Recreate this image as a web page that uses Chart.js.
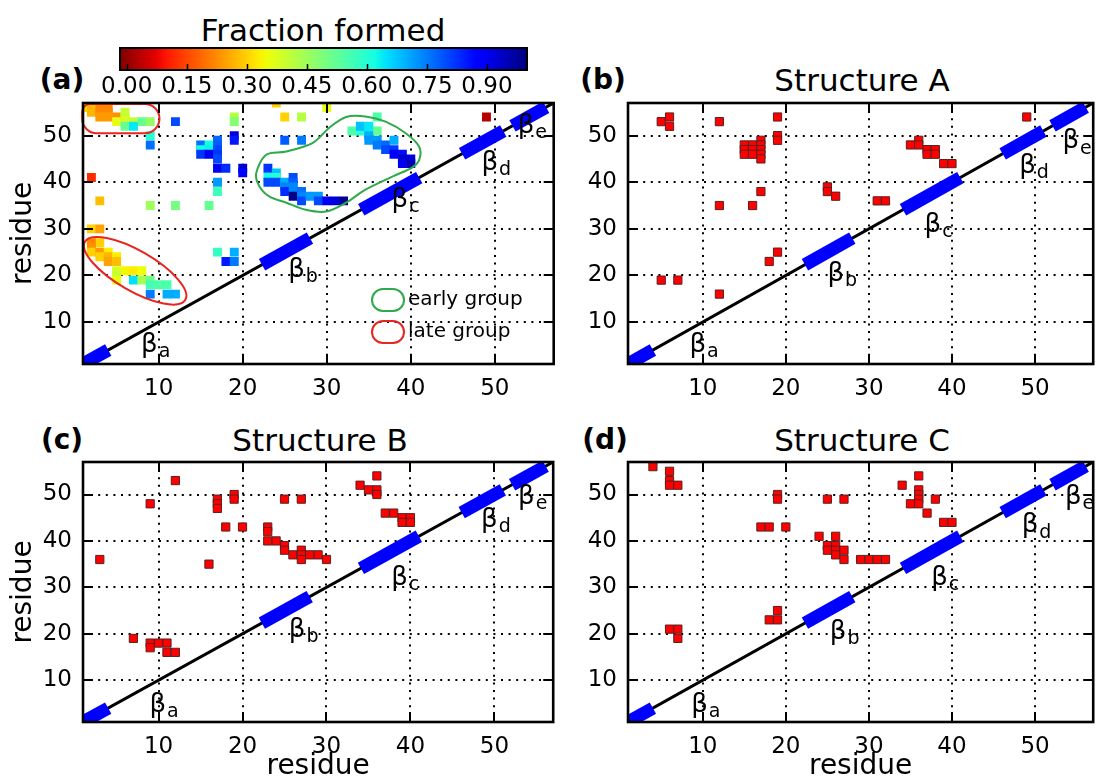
<!DOCTYPE html>
<html>
<head>
<meta charset="utf-8">
<title>Contact maps: fraction formed and structures A-C</title>
<script src="https://cdn.jsdelivr.net/npm/chart.js@4.4.1/dist/chart.umd.min.js"></script>
<style>
  html, body { margin: 0; padding: 0; background: #fff; }
  body { width: 1100px; height: 780px; position: relative; overflow: hidden;
         font-family: "DejaVu Sans", sans-serif; color: #000; }
  canvas { position: absolute; }
  .lbl { position: absolute; white-space: nowrap; line-height: 1; transform: translate(-50%, -50%); }
  .tag { font-weight: bold; font-size: 28px; }
  .ttl { font-size: 31px; }
</style>
</head>
<body>
<div class="lbl ttl" style="left:323px; top:30px;">Fraction formed</div>
<div class="lbl tag" style="left:62px; top:80px;">(a)</div>
<div class="lbl tag" style="left:603px; top:80px;">(b)</div>
<div class="lbl tag" style="left:62px; top:440px;">(c)</div>
<div class="lbl tag" style="left:605px; top:440px;">(d)</div>
<div class="lbl ttl" style="left:862px; top:80px;">Structure A</div>
<div class="lbl ttl" style="left:320px; top:440px;">Structure B</div>
<div class="lbl ttl" style="left:862px; top:440px;">Structure C</div>
<canvas id="cbar"></canvas>
<canvas id="pa"></canvas>
<canvas id="pb"></canvas>
<canvas id="pc"></canvas>
<canvas id="pd"></canvas>
<script>
// ---------------- data ----------------
const residueTicks = [10, 20, 30, 40, 50];
const fractionTicks = [0, 0.15, 0.30, 0.45, 0.60, 0.75, 0.90];

// beta strands drawn along the diagonal (residue ranges)
const strandNames = ['a', 'b', 'c', 'd', 'e'];
const strandStart = [0, 22.3, 34.1, 46.1, 52.1];
const strandEnd   = [4, 28.0, 41.0, 51.0, 56.1];

// (a) residue pairs in contact and the fraction of trajectories that formed them
const aResI = [1,2,3,4, 2,3,4, 3,4,5, 6,6, 5,6,7,8,9, 6,7,
  12, 9,9, 19,19, 19,19, 24,30,25,27, 25,27, 49,
  15,16,15,16,15,16, 17,17,17,17,17, 17,18,20,20, 17,17, 2,3, 9,12,16,
  36,33,34,35,36,34,35, 35,35,36,36,37,38, 37,38,38,39,39,40,39,40,
  23,24,23,24,23,24,25,26,26, 25,26,25,26,27,26,27,27, 28,29,29,30,31,32,
  2,3,3,2,2,2,3,3,4,4,4,5,5, 6,5,5,5,7,8,7,8,9,9,10,11,9,11,12,
  17,19,18,19];
const aResJ = [56,56,56,56, 55,55,55, 54,54,54, 55,54, 53,53,53,53,53, 52,52,
  53, 50,48, 54,53, 50,49, 57,56,54,54, 49,49, 54,
  48,48,47,47,46,46, 49,48,47,46,45, 43,43,43,42, 40,38, 41,36, 35,35,35,
  54,51,51,51,51,52,52, 50,49,49,48,48,49, 47,47,46,46,45,45,44,44,
  43,42,41,41,40,40,40,41,40, 39,39,38,38,38,37,37,36, 37,37,36,36,36,36,
  30,30,27,27,26,25,25,24,25,24,23,24,23, 21,21,20,19,21,21,19,19,19,18,18,18,16,16,16,
  25,25,23,23];
const aFrac = [.30,.28,.22,.22, .27,.22,.22, .24,.24,.23, .40,.40, .36,.38,.40,.52,.46, .52,.64,
  .80, .60,.76, .42,.48, .92,.85, .30,.36,.30,.42, .78,.75, .03,
  .76,.62,.62,.63,.82,.90, .77,.78,.80,.82,.80, .90,.83,.93,.88, .72,.57, .12,.28, .45,.50,.52,
  .55,.55,.60,.62,.52,.68,.64, .70,.72,.72,.75,.77,.70, .80,.82,.88,.86,.93,.92,.90,.95,
  .82,.68,.62,.60,.80,.80,.70,.80,.78, .74,.74,.83,.74,.76,.99,.74,.80, .72,.72,.80,.90,.92,.98,
  .30,.25,.30,.22,.23,.30,.24,.30,.33,.27,.25,.33,.28, .34,.38,.40,.36,.33,.35,.65,.44,.50,.56,.55,.55,.75,.70,.70,
  .58,.70,.85,.75];

// (b) Structure A contacts
const bResI = [5,6,6,12,19,19,19, 15,15,15,16,16,16,17,17,17,17,17,
  12,16,17,18,19,5,7,12, 25,25,26,31,32, 35,36,36,37,38,37,38,39,40,49];
const bResJ = [53,54,52,53,54,50,49, 48,47,46,48,47,46,49,48,47,46,45,
  35,35,38,23,25,19,19,16, 39,38,37,36,36, 48,49,48,47,47,46,46,44,44,54];

// (c) Structure B contacts
const cResI = [3,9,12,17,17,17,19,19,18,20,16,
  25,27,23,23,23,24,25,25,26,27,27,27,28,29,30,
  7,9,10,11,9,11,12,
  34,35,36,36,36,37,38,39,40,39,40];
const cResJ = [36,48,53,49,48,47,50,49,43,43,35,
  49,49,43,42,40,40,39,38,37,38,37,36,37,37,36,
  19,18,18,18,17,16,16,
  52,51,51,54,50,46,46,45,45,44,44];

// (d) Structure C contacts
const dResI = [4,6,6,6,7,19,19,17,18,20,
  25,27,24,26,25,26,25,26,26,27,27, 29,30,31,32,
  34,36,36,36,36,35,36,38,37,39,40,
  6,7,7,18,19,19];
const dResJ = [56,55,53,52,52,50,49,43,43,43,
  49,49,41,41,39,39,38,38,37,38,36, 36,36,36,36,
  52,54,51,50,49,48,48,49,46,44,44,
  21,21,19,23,23,25];

// ---------------- layout / style ----------------
const CB_MIN = -0.0167, CB_MAX = 1.0;
const FONT = '"DejaVu Sans", sans-serif';
Chart.defaults.font.family = FONT;
Chart.defaults.color = '#000';

// where the strand labels sit in each panel (residue coordinates of the beta glyph)
const strandLabelSpots = {
  a: [[8.9, 5.1], [26.4, 21.2], [38.7, 36.2], [49.4, 44.1], [53.7, 52.1]],
  b: [[9.4, 5.1], [26.0, 20.3], [37.7, 30.8], [49.1, 43.5], [54.3, 48.7]],
  c: [[9.9, 4.6], [26.5, 20.8], [38.7, 31.9], [49.4, 44.4], [53.8, 49.4]],
  d: [[9.6, 4.6], [26.3, 20.3], [38.5, 31.9], [49.4, 43.3], [54.6, 49.4]]
};

// outline around the early-forming group (residue coordinates)
const earlyOutline = [[21.6,41.9],[22.8,45.9],[25.2,46.6],[28.3,48.4],[30.3,51.7],[32.3,54.0],
  [34.6,54.1],[37.0,53.0],[39.4,50.5],[41.0,47.6],[41.0,44.8],[40.1,43.1],[37.8,41.2],
  [34.6,38.4],[32.3,35.6],[29.9,33.7],[27.5,34.1],[25.2,35.6],[23.2,36.9],[22.0,39.1]];

const GREEN = '#2eaa4a', RED = '#e8251f';

// jet colormap, reversed so that 0 is dark red and 1 is dark blue
function lerpStops(t, stops) {
  for (let k = 1; k < stops.length; k++) {
    if (t <= stops[k][0]) {
      const [t0, v0] = stops[k - 1], [t1, v1] = stops[k];
      return v0 + (v1 - v0) * (t - t0) / (t1 - t0);
    }
  }
  return stops[stops.length - 1][1];
}
function jet(t) {
  t = Math.min(1, Math.max(0, t));
  const r = lerpStops(t, [[0,0],[0.35,0],[0.66,1],[0.89,1],[1,0.5]]);
  const g = lerpStops(t, [[0,0],[0.125,0],[0.375,1],[0.64,1],[0.91,0],[1,0]]);
  const b = lerpStops(t, [[0,0.5],[0.11,1],[0.34,1],[0.65,0],[1,0]]);
  return `rgb(${Math.round(r*255)},${Math.round(g*255)},${Math.round(b*255)})`;
}
function fracColor(v) { return jet(1 - (v - CB_MIN) / (CB_MAX - CB_MIN)); }

function placeCanvas(id, left, top, w, h) {
  const c = document.getElementById(id);
  c.width = w; c.height = h;
  Object.assign(c.style, { left: left + 'px', top: top + 'px', width: w + 'px', height: h + 'px' });
  return c;
}

function toPoints(xs, ys) { return xs.map((v, i) => ({ x: v, y: ys[i] })); }

// keep the plot area exactly where the layout puts it (no label overhang padding)
function pinScale(s, prop, size) {
  s[prop] = size;
  s.paddingTop = 0; s.paddingBottom = 0; s.paddingLeft = 0; s.paddingRight = 0;
}

// ---------------- colorbar ----------------
const colorbarFill = {
  id: 'colorbarFill',
  beforeDatasetsDraw(chart) {
    const { ctx, chartArea: ca, scales: { x } } = chart;
    ctx.save();
    const g = ctx.createLinearGradient(ca.left, 0, ca.right, 0);
    const n = 96;
    for (let k = 0; k <= n; k++) g.addColorStop(k / n, fracColor(CB_MIN + (CB_MAX - CB_MIN) * k / n));
    ctx.fillStyle = g;
    ctx.fillRect(ca.left, ca.top, ca.width, ca.height);
    ctx.strokeStyle = '#000';
    ctx.lineWidth = 1.5;
    fractionTicks.forEach(v => {
      const px = Math.round(x.getPixelForValue(v)) + 0.5;
      ctx.beginPath(); ctx.moveTo(px, ca.bottom); ctx.lineTo(px, ca.bottom - 6); ctx.stroke();
    });
    ctx.lineWidth = 2;
    ctx.strokeRect(ca.left, ca.top, ca.width, ca.height);
    ctx.restore();
  }
};

placeCanvas('cbar', 100, 40, 450, 72);
new Chart(document.getElementById('cbar'), {
  type: 'scatter',
  data: { datasets: [{ data: [] }] },
  options: {
    responsive: false, animation: false, events: [], devicePixelRatio: 1,
    layout: { padding: { left: 20, right: 23, top: 8, bottom: 0 } },
    plugins: { legend: { display: false }, tooltip: { enabled: false } },
    scales: {
      x: {
        type: 'linear', min: CB_MIN, max: CB_MAX,
        afterBuildTicks: s => { s.ticks = fractionTicks.map(v => ({ value: v })); },
        afterFit: s => pinScale(s, 'height', 42),
        grid: { display: false, drawTicks: false },
        border: { display: false },
        ticks: { font: { size: 23 }, padding: 3, maxRotation: 0, autoSkip: false,
                 callback: v => Number(v).toFixed(2) }
      },
      y: { display: false, min: 0, max: 1 }
    }
  },
  plugins: [colorbarFill]
});

// ---------------- contact map panels ----------------
const panelFrame = {
  id: 'panelFrame',
  afterDatasetsDraw(chart, args, opts) {
    const { ctx, chartArea: ca, scales: { x, y } } = chart;
    ctx.save();
    // strand labels
    ctx.fillStyle = '#000';
    strandLabelSpots[opts.key].forEach((p, i) => {
      const px = x.getPixelForValue(p[0]), py = y.getPixelForValue(p[1]);
      ctx.font = '26px ' + FONT;
      ctx.textAlign = 'center'; ctx.textBaseline = 'middle';
      ctx.fillText('\u03b2', px, py);
      const w = ctx.measureText('\u03b2').width;
      ctx.font = '19px ' + FONT;
      ctx.textAlign = 'left';
      ctx.fillText(strandNames[i], px + w / 2 + 1, py + 7);
    });
    if (opts.annotate) opts.annotate(chart);
    // frame and inward ticks
    ctx.strokeStyle = '#000';
    ctx.lineWidth = 2;
    residueTicks.forEach(v => {
      const px = Math.round(x.getPixelForValue(v));
      const py = Math.round(y.getPixelForValue(v));
      ctx.beginPath();
      ctx.moveTo(px, ca.bottom); ctx.lineTo(px, ca.bottom - 10);
      ctx.moveTo(px, ca.top); ctx.lineTo(px, ca.top + 10);
      ctx.moveTo(ca.left, py); ctx.lineTo(ca.left + 10, py);
      ctx.moveTo(ca.right, py); ctx.lineTo(ca.right - 10, py);
      ctx.stroke();
    });
    ctx.lineWidth = 2.6;
    ctx.strokeRect(ca.left, ca.top, ca.width, ca.height);
    ctx.restore();
  }
};

function smoothClosed(ctx, pts) {
  const n = pts.length;
  ctx.beginPath();
  ctx.moveTo(pts[0][0], pts[0][1]);
  for (let i = 0; i < n; i++) {
    const p0 = pts[(i - 1 + n) % n], p1 = pts[i], p2 = pts[(i + 1) % n], p3 = pts[(i + 2) % n];
    ctx.bezierCurveTo(p1[0] + (p2[0] - p0[0]) / 6, p1[1] + (p2[1] - p0[1]) / 6,
                      p2[0] - (p3[0] - p1[0]) / 6, p2[1] - (p3[1] - p1[1]) / 6, p2[0], p2[1]);
  }
  ctx.closePath();
}

// group outlines and their key, drawn on panel (a)
function annotateGroups(chart) {
  const { ctx, chartArea: ca, scales: { x, y } } = chart;
  ctx.lineWidth = 2;
  // early group
  ctx.strokeStyle = GREEN;
  smoothClosed(ctx, earlyOutline.map(p => [x.getPixelForValue(p[0]), y.getPixelForValue(p[1])]));
  ctx.stroke();
  // late group: upper cluster
  ctx.strokeStyle = RED;
  const x0 = x.getPixelForValue(0.9), x1 = x.getPixelForValue(10.1);
  const y0 = y.getPixelForValue(56.8), y1 = y.getPixelForValue(50.5);
  ctx.beginPath();
  ctx.roundRect(x0, y0, x1 - x0, y1 - y0, [8, 15, 15, 15]);
  ctx.stroke();
  // late group: lower cluster
  ctx.beginPath();
  ctx.ellipse(x.getPixelForValue(7.2), y.getPixelForValue(21.0), 58, 20, Math.PI / 6, 0, 2 * Math.PI);
  ctx.stroke();
  // key
  const kx = ca.left + 289, ky1 = ca.top + 197, ky2 = ca.top + 229;
  [[GREEN, ky1, 'early group'], [RED, ky2, 'late group']].forEach(([col, cy, txt]) => {
    ctx.strokeStyle = col;
    ctx.beginPath();
    ctx.roundRect(kx, cy - 11, 32, 22, 11);
    ctx.stroke();
    ctx.fillStyle = '#000';
    ctx.font = '20px ' + FONT;
    ctx.textAlign = 'left'; ctx.textBaseline = 'middle';
    ctx.fillText(txt, kx + 36, cy);
  });
}

function residueScale(axis, size, title) {
  return {
    type: 'linear', min: 1, max: 57,
    afterBuildTicks: s => { s.ticks = residueTicks.map(v => ({ value: v })); },
    afterFit: s => pinScale(s, axis === 'x' ? 'height' : 'width', size),
    grid: { color: '#000', lineWidth: 2, drawTicks: false },
    border: { display: false, dash: [2, 5.6] },
    ticks: { font: { size: 23 }, padding: axis === 'x' ? 11 : 11, maxRotation: 0, autoSkip: false },
    title: { display: !!title, text: 'residue', font: { size: 28 },
             padding: axis === 'x' ? { top: 0, bottom: 0 } : { top: 7, bottom: 0 } }
  };
}

function strandDatasets() {
  return strandStart.map((s, i) => ({
    data: [{ x: s, y: s }, { x: strandEnd[i], y: strandEnd[i] }],
    showLine: true, borderColor: '#0000ff', borderWidth: 13, borderCapStyle: 'butt',
    pointRadius: 0, clip: 0, order: 1
  }));
}

function makePanel(spec) {
  const yw = 83, padTop = 14;
  const padRight = spec.canvasRight - spec.R;
  const xh = spec.xTitle ? 784 - spec.B : 44;
  const left = spec.L - yw, top = spec.T - padTop;
  const w = spec.canvasRight - left, h = padTop + (spec.B - spec.T) + xh;
  const canvas = placeCanvas(spec.canvas, left, top, w, h);
  const contacts = {
    data: toPoints(spec.xs, spec.ys),
    pointStyle: 'rect', pointRadius: spec.colors ? 6.3 : 5.8,
    pointBackgroundColor: spec.colors || '#ff0000',
    pointBorderColor: spec.colors ? 'rgba(0,0,0,0)' : '#5a2020',
    pointBorderWidth: spec.colors ? 0 : 1,
    order: 0
  };
  const diagonal = {
    data: [{ x: 1, y: 1 }, { x: 57, y: 57 }],
    showLine: true, borderColor: '#000', borderWidth: 3, pointRadius: 0, clip: 0, order: 2
  };
  new Chart(canvas, {
    type: 'scatter',
    data: { datasets: [contacts, ...strandDatasets(), diagonal] },
    options: {
      responsive: false, animation: false, events: [], devicePixelRatio: 1,
      layout: { padding: { left: 0, right: padRight, top: padTop, bottom: 0 } },
      plugins: { legend: { display: false }, tooltip: { enabled: false },
                 panelFrame: { key: spec.key, annotate: spec.annotate } },
      scales: { x: residueScale('x', xh, spec.xTitle), y: residueScale('y', yw, spec.yTitle) }
    },
    plugins: [panelFrame]
  });
}

const panelSpecs = [
  { key: 'a', canvas: 'pa', L: 83, R: 556, T: 103, B: 364, canvasRight: 560, yTitle: true, xTitle: false,
    xs: aResI, ys: aResJ, colors: aFrac.map(fracColor), annotate: annotateGroups },
  { key: 'b', canvas: 'pb', L: 628, R: 1098, T: 103, B: 364, canvasRight: 1100, yTitle: false, xTitle: false,
    xs: bResI, ys: bResJ },
  { key: 'c', canvas: 'pc', L: 83, R: 556, T: 462, B: 722, canvasRight: 560, yTitle: true, xTitle: true,
    xs: cResI, ys: cResJ },
  { key: 'd', canvas: 'pd', L: 628, R: 1098, T: 462, B: 722, canvasRight: 1100, yTitle: false, xTitle: true,
    xs: dResI, ys: dResJ }
];
panelSpecs.forEach(makePanel);
</script>
</body>
</html>
